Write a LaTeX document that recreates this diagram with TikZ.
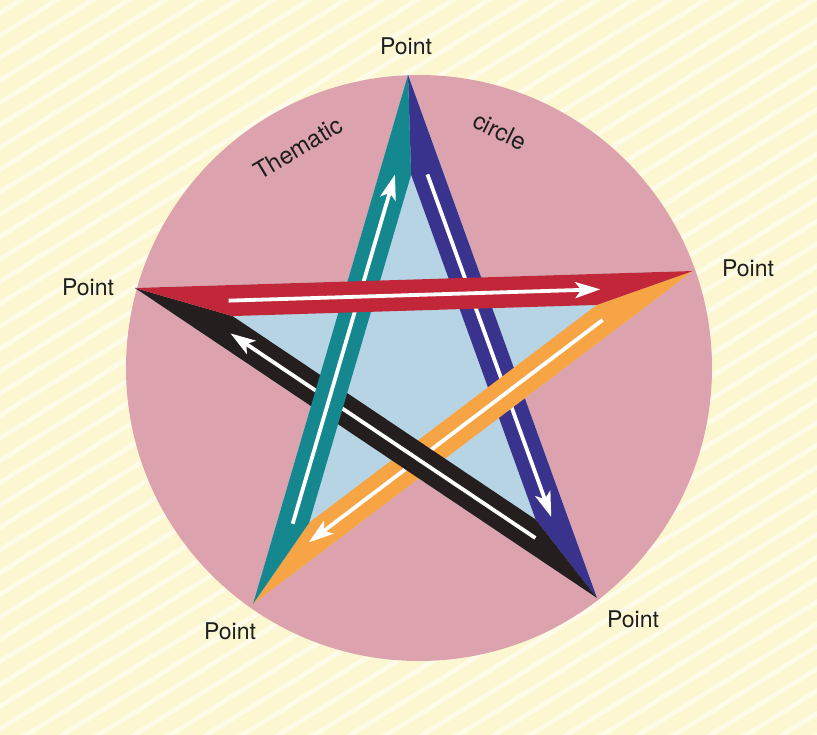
\documentclass[tikz,border=0pt]{standalone}
\usepackage{fontspec}
\setmainfont{TeX Gyre Heros}
\usetikzlibrary{calc,arrows.meta}
\definecolor{bgyellow}{HTML}{FEFCE8}
\definecolor{stripecol}{HTML}{FAF3B4}
\definecolor{disccol}{HTML}{DCA3AE}
\definecolor{innercol}{HTML}{B6D4E3}
\definecolor{tealband}{HTML}{15878F}
\definecolor{indigoband}{HTML}{3A338E}
\definecolor{redband}{HTML}{C12738}
\definecolor{orangeband}{HTML}{F7A445}
\definecolor{blackband}{HTML}{241E1F}
\definecolor{txtcol}{HTML}{1E1E1E}
\newcommand{\ptfont}{\fontsize{23}{23}\selectfont}
\newcommand{\arcfont}{\fontsize{24}{24}\selectfont}
\begin{document}
\begin{tikzpicture}[x=1pt,y=-1pt,
  lbl/.style={font=\ptfont, text=txtcol, inner sep=0pt},
  arclbl/.style={font=\arcfont, text=txtcol, inner sep=0pt},
  warrow/.style={white, line width=3.8pt, line cap=butt,
    -{Stealth[length=25pt,width=16pt,inset=6pt]}}]
\useasboundingbox (0,0) rectangle (817,735);
% background
\begin{scope}
\clip (0,0) rectangle (817,735);
\fill[bgyellow] (0,0) rectangle (817,735);
\foreach \k in {-1400,-1364,...,840}
  \draw[stripecol, line width=14pt, opacity=0.45] (\k,760) -- ++(1400,-870);
\end{scope}
% geometry
\coordinate (C) at (419,368);
\coordinate (T) at (408,75);
\coordinate (B) at (253,604);
\coordinate (R) at (693,271);
\coordinate (L) at (135,288);
\coordinate (D) at (597,598);
\def\bw{31pt}
\def\hw{15.5pt}
% offset (inner) lines
\coordinate (a1) at ($(T)!\bw!90:(B)$); \coordinate (b1) at ($(B)!\bw!-90:(T)$);
\coordinate (a2) at ($(B)!\bw!90:(R)$); \coordinate (b2) at ($(R)!\bw!-90:(B)$);
\coordinate (a3) at ($(R)!\bw!90:(L)$); \coordinate (b3) at ($(L)!\bw!-90:(R)$);
\coordinate (a4) at ($(L)!\bw!90:(D)$); \coordinate (b4) at ($(D)!\bw!-90:(L)$);
\coordinate (a5) at ($(D)!\bw!90:(T)$); \coordinate (b5) at ($(T)!\bw!-90:(D)$);
\coordinate (QT) at (intersection of a5--b5 and a1--b1);
\coordinate (QB) at (intersection of a1--b1 and a2--b2);
\coordinate (QR) at (intersection of a2--b2 and a3--b3);
\coordinate (QL) at (intersection of a3--b3 and a4--b4);
\coordinate (QD) at (intersection of a4--b4 and a5--b5);
% centre lines
\coordinate (m1s) at ($(T)!\hw!90:(B)$); \coordinate (m1e) at ($(B)!\hw!-90:(T)$);
\coordinate (m2s) at ($(B)!\hw!90:(R)$); \coordinate (m2e) at ($(R)!\hw!-90:(B)$);
\coordinate (m3s) at ($(R)!\hw!90:(L)$); \coordinate (m3e) at ($(L)!\hw!-90:(R)$);
\coordinate (m4s) at ($(L)!\hw!90:(D)$); \coordinate (m4e) at ($(D)!\hw!-90:(L)$);
\coordinate (m5s) at ($(D)!\hw!90:(T)$); \coordinate (m5e) at ($(T)!\hw!-90:(D)$);
% disc and star interior
\fill[disccol] (C) circle[radius=293pt];
\fill[innercol] (T) -- (B) -- (R) -- (L) -- (D) -- cycle;
% bands (stacking order)
\fill[indigoband] (D) -- (T) -- (QT) -- (QD) -- cycle;
\draw[warrow] ($(m5s)!0.82!(m5e)$) coordinate (t5) -- ($(m5s)!0.165!(m5e)$) coordinate (h5);
\fill[orangeband] (B) -- (R) -- (QR) -- (QB) -- cycle;
\draw[warrow] ($(m2s)!0.816!(m2e)$) coordinate (t2) -- ($(m2s)!0.148!(m2e)$) coordinate (h2);
\fill[blackband] (L) -- (D) -- (QD) -- (QL) -- cycle;
\draw[warrow] ($(m4s)!0.848!(m4e)$) coordinate (t4) -- ($(m4s)!0.188!(m4e)$) coordinate (h4);
\fill[tealband] (T) -- (B) -- (QB) -- (QT) -- cycle;
\draw[warrow] ($(m1s)!0.84!(m1e)$) coordinate (t1) -- ($(m1s)!0.18!(m1e)$) coordinate (h1);
\fill[redband] (R) -- (L) -- (QL) -- (QR) -- cycle;
\draw[warrow] ($(m3s)!0.833!(m3e)$) coordinate (t3) -- ($(m3s)!0.167!(m3e)$) coordinate (h3);
% labels
\node[lbl] (pT) at (406,46) {Point};
\node[lbl] (pL) at (88,287) {Point};
\node[lbl] (pR) at (748,268) {Point};
\node[lbl] (pD) at (633,619) {Point};
\node[lbl] (pB) at (230,631) {Point};
\node[arclbl, rotate=31] (thm) at (298,148) {Thematic};
\node[arclbl, rotate=-26] (crc) at (500,131) {circle};
\end{tikzpicture}
\end{document}
